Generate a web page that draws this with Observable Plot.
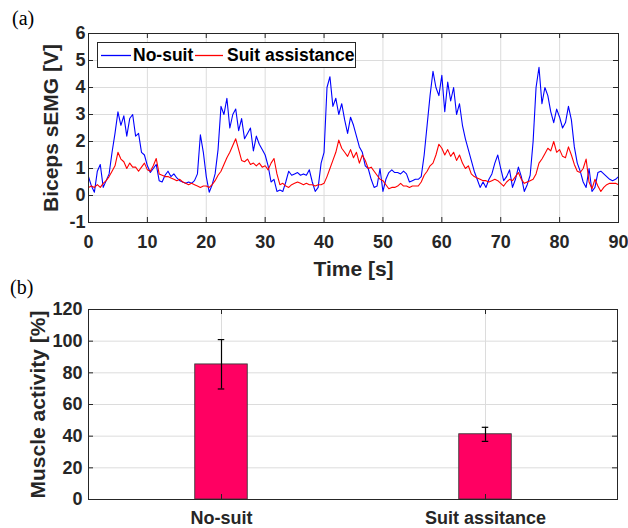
<!DOCTYPE html>
<html>
<head>
<meta charset="utf-8">
<script src="https://cdn.jsdelivr.net/npm/d3@7"></script>
<script src="https://cdn.jsdelivr.net/npm/@observablehq/plot@0.6"></script>
<style>
  html, body { margin: 0; padding: 0; background: #fff; }
  #wrap { position: relative; width: 628px; height: 528px; overflow: hidden; font-family: "Liberation Sans", Arial, sans-serif; }
  .panel { position: absolute; left: 0; }
  .tag { position: absolute; font-family: "Liberation Serif", "Times New Roman", serif; font-size: 20px; line-height: 1; color: #000; }
  #legend { position: absolute; left: 97px; top: 42px; width: 257px; height: 24px; border: 1px solid #262626; background: #fff; font-weight: bold; font-size: 17.5px; color: #000; }
  #legend svg { position: absolute; left: 0; top: 0; }
  #legend .lt { position: absolute; top: 2px; line-height: 20px; white-space: nowrap; }
</style>
</head>
<body>
<div id="wrap">
  <div class="panel" id="pa" style="top:0"></div>
  <div class="panel" id="pb" style="top:280px"></div>
  <div class="tag" style="left:12px;top:8px">(a)</div>
  <div class="tag" style="left:10px;top:277px">(b)</div>
  <div id="legend"></div>
</div>
<script>
// ---------- Panel (a) data: biceps sEMG, sampled every 0.5 s from 0 to 90 s ----------
const seriesNames = ["No-suit", "Suit assistance"];
const seriesColors = ["#0000ff", "#ff0000"];
const timeStep = 0.5;
const noSuit = [
  0.7,0.35,0.12,0.9,1.15,0.3,0.55,0.8,1.6,2.3,
  3.1,2.6,2.95,2.2,2.85,3.0,2.2,2.3,1.6,1.5,
  1.1,0.85,1.0,1.15,0.55,0.5,0.75,0.9,0.7,0.8,
  0.65,0.55,0.5,0.45,0.5,0.45,0.55,0.8,2.25,1.6,
  0.7,0.12,0.4,0.8,1.7,3.3,3.0,3.6,2.5,3.0,
  3.2,2.4,2.85,2.1,2.3,2.5,1.65,2.2,1.9,1.7,
  1.5,1.1,0.5,0.6,0.15,0.2,0.15,0.5,0.9,0.75,
  0.8,0.85,0.75,0.8,0.75,0.95,0.5,0.15,0.3,1.2,
  1.6,4.0,4.4,3.3,3.6,3.0,3.4,2.8,2.3,2.9,
  2.6,2.2,1.8,1.6,1.1,1.0,0.6,0.3,0.35,1.0,
  0.15,0.6,0.85,0.95,0.85,0.85,0.8,0.9,0.8,0.5,
  0.55,0.6,0.6,0.7,1.5,2.6,3.7,4.6,4.0,3.7,
  4.45,3.1,4.2,3.5,4.0,3.0,3.4,2.6,2.1,1.7,
  1.3,0.9,0.6,0.3,0.5,0.3,0.6,0.8,1.2,1.5,
  1.0,0.55,0.7,0.95,0.3,0.6,1.05,0.7,0.15,0.4,
  0.75,2.0,4.0,4.75,3.4,4.0,3.7,3.1,2.7,3.2,
  2.9,2.5,2.7,3.3,2.8,1.8,1.2,0.9,0.5,0.3,
  1.0,0.15,0.3,0.85,0.9,0.8,0.7,0.6,0.55,0.6,
  0.7
];
const suitAssist = [
  0.3,0.35,0.3,0.4,0.3,0.45,0.55,0.7,0.9,1.1,
  1.6,1.35,1.25,1.0,1.2,1.05,1.05,0.9,1.05,1.2,
  0.95,0.9,1.1,1.37,0.8,0.75,0.7,0.7,0.65,0.6,
  0.55,0.6,0.5,0.45,0.4,0.45,0.4,0.35,0.3,0.35,
  0.35,0.3,0.4,0.55,0.75,0.9,1.15,1.4,1.6,1.85,
  2.1,1.7,1.3,1.25,1.35,1.15,1.2,1.1,1.2,1.05,
  1.1,0.95,1.2,1.37,0.8,0.4,0.45,0.35,0.3,0.4,
  0.45,0.5,0.45,0.4,0.45,0.4,0.4,0.35,0.4,0.4,
  0.45,0.7,1.0,1.3,1.6,2.05,1.75,1.6,1.45,1.7,
  1.4,1.6,1.2,1.5,1.3,1.0,1.05,0.9,0.75,0.6,
  0.55,0.4,0.25,0.3,0.3,0.35,0.45,0.35,0.35,0.3,
  0.35,0.35,0.35,0.5,0.75,0.9,1.1,1.2,1.5,1.9,
  1.75,1.5,1.7,1.45,1.6,1.3,1.5,1.2,1.0,1.1,
  0.8,0.7,0.65,0.6,0.55,0.55,0.5,0.55,0.6,0.55,
  0.45,0.35,0.5,0.6,0.55,0.7,0.85,0.6,0.45,0.5,
  0.55,0.6,0.8,1.2,1.35,1.55,1.75,1.65,2.0,1.6,
  1.7,1.45,1.4,1.8,1.5,1.15,0.9,0.85,1.0,1.35,
  0.5,0.25,0.6,0.35,0.15,0.3,0.4,0.45,0.45,0.45,
  0.4
];
const timeTicks = [0,10,20,30,40,50,60,70,80,90];
const emgTicks = [-1,0,1,2,3,4,5,6];

// ---------- Panel (b) data ----------
const conditions = ["No-suit", "Suit assitance"];
const activityMean = [85.3, 41.2];
const activityLow = [69.8, 36.7];
const activityHigh = [101.0, 45.6];
const activityTicks = [0,20,40,60,80,100,120];

const FONT = '"Liberation Sans", Arial, Helvetica, sans-serif';
const INK = "#262626";
const GRID = "#dcdcdc";

// build long table for panel (a)
const emg = [];
noSuit.forEach((v, i) => emg.push({t: i * timeStep, v, s: seriesNames[0]}));
suitAssist.forEach((v, i) => emg.push({t: i * timeStep, v, s: seriesNames[1]}));

// ---------------- Panel (a) ----------------
const A = {w: 628, h: 280, ml: 88, mr: 10, mt: 33, mb: 58};
const aPlotW = A.w - A.ml - A.mr, aPlotH = A.h - A.mt - A.mb;
const plotA = Plot.plot({
  width: A.w, height: A.h,
  marginLeft: A.ml, marginRight: A.mr, marginTop: A.mt, marginBottom: A.mb,
  style: {fontFamily: FONT, fontSize: "18px", fontWeight: "bold", color: INK, background: "white", overflow: "visible"},
  x: {domain: [0, 90]},
  y: {domain: [-1, 6]},
  color: {domain: seriesNames, range: seriesColors},
  marks: [
    Plot.gridX(timeTicks, {stroke: GRID, strokeOpacity: 1}),
    Plot.gridY(emgTicks, {stroke: GRID, strokeOpacity: 1}),
    Plot.line(emg, {x: "t", y: "v", z: "s", stroke: "s", strokeWidth: 1.1}),
    // inward ticks (MATLAB style)
    Plot.tickX(timeTicks, {x: d => d, insetTop: aPlotH - 5, stroke: INK}),
    Plot.tickX(timeTicks, {x: d => d, insetBottom: aPlotH - 5, stroke: INK}),
    Plot.tickY(emgTicks, {y: d => d, insetRight: aPlotW - 5, stroke: INK}),
    Plot.tickY(emgTicks, {y: d => d, insetLeft: aPlotW - 5, stroke: INK}),
    Plot.frame({stroke: INK, strokeWidth: 1}),
    Plot.axisX(timeTicks, {anchor: "bottom", tickSize: 0, tickPadding: 13, tickFormat: d => d, label: null, fill: INK}),
    Plot.axisY(emgTicks, {anchor: "left", tickSize: 0, tickPadding: 3, tickFormat: d => d, label: null, fill: INK}),
    Plot.text(["Time [s]"], {frameAnchor: "bottom", dy: 47, lineAnchor: "middle", textAnchor: "middle", fontSize: 21, fontWeight: "bold", fill: INK}),
    Plot.text(["Biceps sEMG [V]"], {frameAnchor: "left", rotate: -90, dx: -37, lineAnchor: "middle", textAnchor: "middle", fontSize: 21, fontWeight: "bold", fill: INK})
  ]
});
document.getElementById("pa").appendChild(plotA);

// ---------------- Panel (b) ----------------
const B = {w: 628, h: 248, ml: 88, mr: 11, mt: 29, mb: 29};
const bPlotW = B.w - B.ml - B.mr, bPlotH = B.h - B.mt - B.mb;
const bars = conditions.map((c, i) => ({c, m: activityMean[i], lo: activityLow[i], hi: activityHigh[i]}));
const band = bPlotW / conditions.length;
const barW = 53, capW = 7;
const plotB = Plot.plot({
  width: B.w, height: B.h,
  marginLeft: B.ml, marginRight: B.mr, marginTop: B.mt, marginBottom: B.mb,
  style: {fontFamily: FONT, fontSize: "18px", fontWeight: "bold", color: INK, background: "white", overflow: "visible"},
  x: {domain: conditions, type: "band", padding: 0},
  y: {domain: [0, 120]},
  marks: [
    Plot.gridX(conditions, {stroke: GRID, strokeOpacity: 1}),
    Plot.gridY(activityTicks, {stroke: GRID, strokeOpacity: 1}),
    Plot.barY(bars, {x: "c", y: "m", fill: "#ff0062", stroke: "#3a3a3a", strokeWidth: 0.9,
      insetLeft: (band - barW) / 2, insetRight: (band - barW) / 2}),
    Plot.ruleX(bars, {x: "c", y1: "lo", y2: "hi", stroke: "#000", strokeWidth: 1.2}),
    Plot.tickY(bars, {x: "c", y: "lo", stroke: "#000", strokeWidth: 1.2, insetLeft: (band - capW) / 2, insetRight: (band - capW) / 2}),
    Plot.tickY(bars, {x: "c", y: "hi", stroke: "#000", strokeWidth: 1.2, insetLeft: (band - capW) / 2, insetRight: (band - capW) / 2}),
    Plot.tickX(conditions, {x: d => d, insetTop: bPlotH - 5, stroke: INK}),
    Plot.tickX(conditions, {x: d => d, insetBottom: bPlotH - 5, stroke: INK}),
    Plot.tickY(activityTicks, {y: d => d, insetRight: bPlotW - 5, stroke: INK}),
    Plot.tickY(activityTicks, {y: d => d, insetLeft: bPlotW - 5, stroke: INK}),
    Plot.frame({stroke: INK, strokeWidth: 1}),
    Plot.axisX(conditions, {anchor: "bottom", tickSize: 0, tickPadding: 12, label: null, fill: INK}),
    Plot.axisY(activityTicks, {anchor: "left", tickSize: 0, tickPadding: 6, tickFormat: d => d, label: null, fill: INK}),
    Plot.text(["Muscle activity [%]"], {frameAnchor: "left", rotate: -90, dx: -50, lineAnchor: "middle", textAnchor: "middle", fontSize: 21, fontWeight: "bold", fill: INK})
  ]
});
document.getElementById("pb").appendChild(plotB);

// ---------------- Legend (panel a) ----------------
const legend = document.getElementById("legend");
const legendLayout = [{sw: 3, sl: 30, tx: 35}, {sw: 97, sl: 28, tx: 129}];
const NS = "http://www.w3.org/2000/svg";
const lsvg = document.createElementNS(NS, "svg");
lsvg.setAttribute("width", "257");
lsvg.setAttribute("height", "24");
legend.appendChild(lsvg);
seriesNames.forEach((name, i) => {
  const L = legendLayout[i];
  const ln = document.createElementNS(NS, "line");
  ln.setAttribute("x1", L.sw);
  ln.setAttribute("x2", L.sw + L.sl);
  ln.setAttribute("y1", 12.5);
  ln.setAttribute("y2", 12.5);
  ln.setAttribute("stroke", seriesColors[i]);
  ln.setAttribute("stroke-width", "1.3");
  lsvg.appendChild(ln);
  const tx = document.createElement("div");
  tx.className = "lt";
  tx.style.left = L.tx + "px";
  tx.textContent = name;
  legend.appendChild(tx);
});
</script>
</body>
</html>
